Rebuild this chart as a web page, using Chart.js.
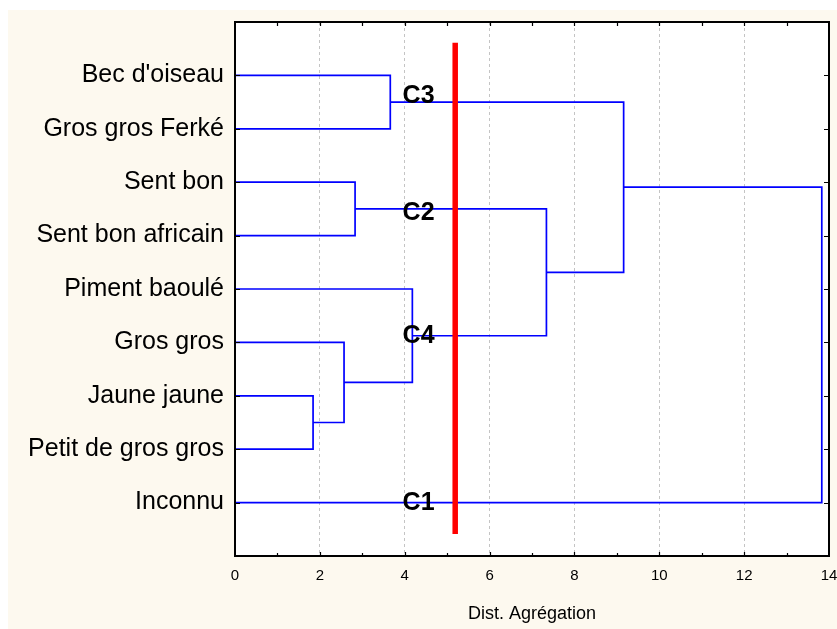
<!DOCTYPE html>
<html>
<head>
<meta charset="utf-8">
<script src="https://cdn.jsdelivr.net/npm/chart.js@4"></script>
<style>
  html, body { margin: 0; padding: 0; background: #fff; }
</style>
</head>
<body>
<canvas id="dendro" width="837" height="629"></canvas>
<script>
// leaves, top to bottom
const leaves = ["Bec d'oiseau", 'Gros gros Ferké', 'Sent bon', 'Sent bon africain',
  'Piment baoulé', 'Gros gros', 'Jaune jaune', 'Petit de gros gros', 'Inconnu'];

// merges: node ids 0-8 are leaves, 9+ are the merges in this order
const mergeA = [6, 5, 2, 0, 4, 11, 12, 15];
const mergeB = [7, 9, 3, 1, 10, 13, 14, 8];
const mergeDist = [1.84, 2.57, 2.83, 3.66, 4.18, 7.34, 9.16, 13.83];

// cut line and cluster names
const cutoff = 5.19;
const cutoffSpan = [0.39, 9.59];
const clusterNames = ['C3', 'C2', 'C4', 'C1'];
const clusterY = [1.37, 3.56, 5.86, 9.0];
const clusterX = 3.95;

const xMax = 14;
const FONT = "'Liberation Sans', Arial, sans-serif";

// node positions
const nodeX = leaves.map(() => 0);
const nodeY = leaves.map((_, i) => i + 1);
mergeA.forEach((a, k) => {
  nodeX.push(mergeDist[k]);
  nodeY.push((nodeY[a] + nodeY[mergeB[k]]) / 2);
});

const linkSets = mergeA.map((a, k) => {
  const b = mergeB[k], d = mergeDist[k];
  return {
    data: [
      { x: nodeX[a], y: nodeY[a] }, { x: d, y: nodeY[a] },
      { x: d, y: nodeY[b] }, { x: nodeX[b], y: nodeY[b] }
    ],
    showLine: true, borderColor: '#0000ff', borderWidth: 1.7,
    pointRadius: 0, tension: 0, order: 1
  };
});

const cutSet = {
  data: [{ x: cutoff, y: cutoffSpan[0] }, { x: cutoff, y: cutoffSpan[1] }],
  showLine: true, borderColor: '#ff0000', borderWidth: 5.5,
  pointRadius: 0, order: 0
};

// cream page + white plot area
const backdrop = {
  id: 'backdrop',
  beforeDraw(chart) {
    const { ctx, chartArea: a } = chart;
    ctx.save();
    ctx.fillStyle = '#ffffff';
    ctx.fillRect(0, 0, chart.width, chart.height);
    ctx.fillStyle = '#fdf9ef';
    ctx.fillRect(8, 10, chart.width - 8, chart.height - 10);
    ctx.fillStyle = '#ffffff';
    ctx.fillRect(a.left, a.top, a.right - a.left, a.bottom - a.top);
    ctx.restore();
  }
};

// frame, inward ticks, cluster labels
const frame = {
  id: 'frame',
  afterDatasetsDraw(chart) {
    const { ctx, chartArea: a, scales: { x, y } } = chart;
    ctx.save();
    ctx.strokeStyle = '#000';
    ctx.lineWidth = 1.2;
    ctx.beginPath();
    for (let v = 1; v < xMax; v++) {
      const px = Math.round(x.getPixelForValue(v)) + 0.5;
      const len = v % 2 === 0 ? 4 : 3;
      ctx.moveTo(px, a.bottom); ctx.lineTo(px, a.bottom - len);
      ctx.moveTo(px, a.top); ctx.lineTo(px, a.top + 4);
    }
    leaves.forEach((_, i) => {
      const py = Math.round(y.getPixelForValue(i + 1)) + 0.5;
      ctx.moveTo(a.left, py); ctx.lineTo(a.left + 5, py);
      ctx.moveTo(a.right, py); ctx.lineTo(a.right - 5, py);
    });
    ctx.stroke();
    ctx.lineWidth = 2;
    ctx.strokeRect(a.left, a.top, a.right - a.left, a.bottom - a.top);

    ctx.fillStyle = '#000';
    ctx.font = 'bold 25px ' + FONT;
    ctx.textAlign = 'left';
    ctx.textBaseline = 'middle';
    clusterNames.forEach((n, i) => {
      ctx.fillText(n, x.getPixelForValue(clusterX), y.getPixelForValue(clusterY[i]) + 1);
    });
    ctx.restore();
  }
};

new Chart(document.getElementById('dendro'), {
  type: 'scatter',
  data: { datasets: [cutSet, ...linkSets] },
  options: {
    responsive: false,
    animation: false,
    layout: { padding: { left: 0, top: 22, right: 8, bottom: 0 } },
    plugins: { legend: { display: false }, tooltip: { enabled: false } },
    scales: {
      x: {
        type: 'linear', min: 0, max: xMax,
        border: { display: false, dash: [3, 3] },
        grid: {
          drawTicks: false,
          color: c => (c.tick && c.tick.value % 2 === 0 && c.tick.value > 0 && c.tick.value < xMax)
            ? '#c4c4c4' : 'rgba(0,0,0,0)',
          lineWidth: 1
        },
        ticks: {
          stepSize: 1, autoSkip: false, maxRotation: 0, padding: 11,
          color: '#000', font: { family: FONT, size: 15 },
          callback: v => (v % 2 === 0 ? v : '')
        },
        title: {
          display: true, text: 'Dist. Agrégation', color: '#000',
          font: { family: FONT, size: 18 }, padding: { top: 4, bottom: 4 }
        },
        afterFit(s) { s.height = 73; s.paddingLeft = 0; s.paddingRight = 0; }
      },
      y: {
        type: 'linear', min: 0, max: 10, reverse: true,
        border: { display: false },
        grid: { display: false, drawTicks: false },
        ticks: {
          stepSize: 1, autoSkip: false, padding: 11,
          color: '#000', font: { family: FONT, size: 25 },
          callback: v => leaves[v - 1] || ''
        },
        afterFit(s) { s.width = 235; s.paddingTop = 0; s.paddingBottom = 0; }
      }
    }
  },
  plugins: [backdrop, frame]
});
</script>
</body>
</html>
